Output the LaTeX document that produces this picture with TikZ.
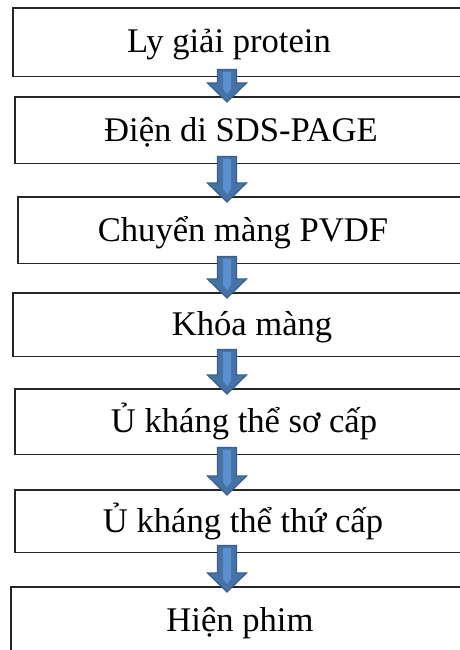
\documentclass[tikz,border=0pt]{standalone}
\usepackage{fontspec}
\setmainfont{Liberation Serif}
\usepackage{xcolor}
\definecolor{arrowfill}{HTML}{4672A6}
\definecolor{arrowline}{HTML}{3A5F8E}
\definecolor{arrowlight}{HTML}{5B90CF}
\definecolor{boxline}{HTML}{262626}
\usepackage{tikz}
\usetikzlibrary{calc}

% block arrow from the bottom of box #1 to the top of box #2
\newcommand{\stepdown}[2]{%
  \coordinate (#1tail) at ($(#1.south west -| ax)+(0,-7)$);
  \coordinate (#1tip) at ($(#2.north west -| ax)+(0,5)$);
  \filldraw[arrowbody] ($(#1tail)+(-9.5,0)$) -- ($(#1tail)+(9.5,0)$) -- ($(#1tip)+(9.5,-19)$) -- ($(#1tip)+(19.5,-19)$)
    -- (#1tip) -- ($(#1tip)+(-19.5,-19)$) -- ($(#1tip)+(-9.5,-19)$) -- cycle;
  \fill[arrowlight] ($(#1tail)+(-4,2.5)$) -- ($(#1tail)+(4,2.5)$) -- ($(#1tip)+(4,-13)$) -- ($(#1tip)+(0,-8)$) -- ($(#1tip)+(-4,-13)$) -- cycle;
}
% box open at the right, where it runs off the page
\newcommand{\stepframe}[1]{%
  \draw[boxedge] (#1.north east) -- (#1.north west) -- (#1.south west) -- (#1.south east);
}

\begin{document}
\begin{tikzpicture}[
    x=1pt, y=-1pt,
    font=\fontsize{34.6}{40}\selectfont,
    stepbox/.style={anchor=north west, inner sep=0pt, minimum width=600pt},
    boxedge/.style={draw=boxline, line width=1.3pt, line cap=rect},
    steptext/.style={anchor=base, inner sep=0pt},
    arrowbody/.style={fill=arrowfill, draw=arrowline, line width=1.2pt, line join=miter},
]
\useasboundingbox (0,0) rectangle (460,650);
\clip (0,0) rectangle (460,650);
\fill[white] (0,0) rectangle (460,650);
\coordinate (ax) at (227,0);

\node[stepbox, minimum height=68] (b1) at (13,8) {};
\node[stepbox, minimum height=66] (b2) at (15,97) {};
\node[stepbox, minimum height=66] (b3) at (18,197) {};
\node[stepbox, minimum height=63] (b4) at (13,293) {};
\node[stepbox, minimum height=65] (b5) at (15,389) {};
\node[stepbox, minimum height=62] (b6) at (15,490) {};
\node[stepbox, minimum height=80] (b7) at (11,587) {};
\foreach \b in {b1,b2,b3,b4,b5,b6,b7}
  \stepframe{\b};

\node[steptext] (t1) at (229,53) {Ly giải protein};
\node[steptext] (t2) at (241,141) {Điện di SDS-PAGE};
\node[steptext] (t3) at (243,241) {Chuyển màng PVDF};
\node[steptext] (t4) at (252,335) {Khóa màng};
\node[steptext] (t5) at (244,432) {Ủ kháng thể sơ cấp};
\node[steptext] (t6) at (243,532) {Ủ kháng thể thứ cấp};
\node[steptext] (t7) at (240,631) {Hiện phim};

\stepdown{b1}{b2}
\stepdown{b2}{b3}
\stepdown{b3}{b4}
\stepdown{b4}{b5}
\stepdown{b5}{b6}
\stepdown{b6}{b7}
\end{tikzpicture}
\end{document}
